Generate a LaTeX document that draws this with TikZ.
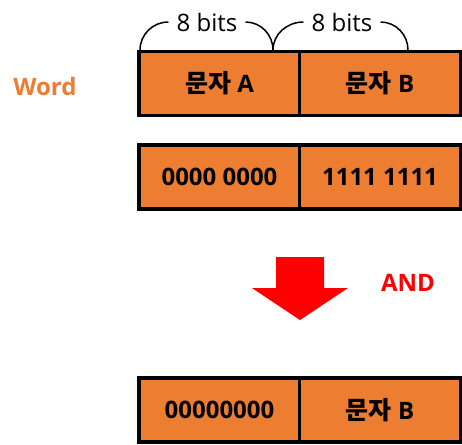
\documentclass[tikz,border=0pt]{standalone}
\usepackage{fontspec}
\setmainfont{Open Sans}
\newfontfamily\kr{Noto Sans CJK KR}
\newcommand{\kor}[1]{{\kr\fontsize{25}{25}\selectfont #1}}
\definecolor{cellorange}{HTML}{ED7D31}

\begin{document}
\begin{tikzpicture}[x=1pt,y=-1pt]
\tikzset{cell/.style={draw,line width=3.5pt,fill=cellorange,minimum width=161,minimum height=64,inner sep=0,font=\bfseries\fontsize{24}{24}\selectfont}}
\tikzset{bits/.style={inner sep=8,font=\fontsize{24}{24}\selectfont}}
\useasboundingbox (0,0) rectangle (462,444);
\node (w) at (45,86) [text=cellorange,font=\bfseries\fontsize{24}{24}\selectfont] {Word};
\node[cell] (a1) at (219.5,83.5) {\kor{문자} A};
\node[cell] (b1) at (380,83.5) {\kor{문자} B};
\node[cell] (a2) at (219.5,177) {0000 0000};
\node[cell] (b2) at (380,177) {1111 1111};
\node[cell] (a3) at (219.5,410) {00000000};
\node[cell] (b3) at (380,410) {\kor{문자} B};
\node[bits] (l1) at (207,22) {8 bits};
\node[bits] (l2) at (342,22) {8 bits};
\coordinate (m) at (273,50);
\coordinate (r) at (408,50);
\draw[line width=1.5pt] (140,50) to[out=90,in=180] (l1.west);
\draw[line width=1.5pt] (l1.east) to[out=0,in=90] (m);
\draw[line width=1.5pt] (m) to[out=90,in=180] (l2.west);
\draw[line width=1.5pt] (l2.east) to[out=0,in=90] (r);
\fill[red] (276,257) -- (324,257) -- (324,288) -- (348,288) -- (300,320) -- (252,288) -- (276,288) -- cycle;
\node (and) at (408,283) [text=red,font=\bfseries\fontsize{24}{24}\selectfont] {AND};
\end{tikzpicture}
\end{document}
